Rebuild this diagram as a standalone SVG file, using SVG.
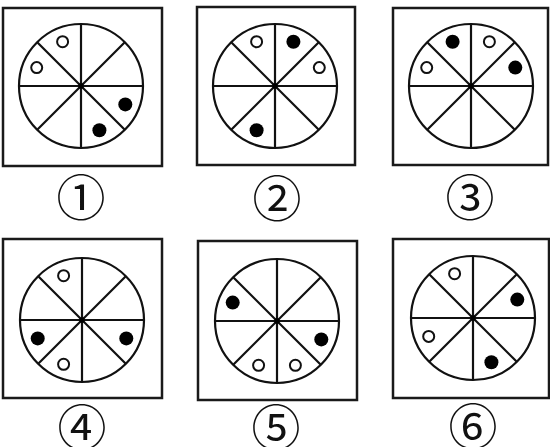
<svg xmlns="http://www.w3.org/2000/svg" xmlns:xlink="http://www.w3.org/1999/xlink" width="550" height="447" viewBox="0 0 550 447">
<style>
.frame{fill:none;stroke:#1a1a1a;stroke-width:2.5}
.wheel{fill:none;stroke:#111;stroke-width:2.2}
.open{fill:#fff;stroke:#111;stroke-width:2}
.fill{fill:#000}
.lbl{font-family:"Noto Sans CJK SC","DejaVu Sans",sans-serif;font-size:49px;fill:#111;text-anchor:middle}
</style>
<defs>
<g id="wheel">
<circle class="wheel" r="62"/>
<line class="wheel" x1="0" y1="-62" x2="0" y2="62"/>
<line class="wheel" x1="-62" y1="0" x2="62" y2="0"/>
<line class="wheel" x1="-43.8" y1="-43.8" x2="43.8" y2="43.8"/>
<line class="wheel" x1="43.8" y1="-43.8" x2="-43.8" y2="43.8"/>
<rect x="-2.5" y="-2.5" width="5" height="5" fill="#000"/>
</g>
<circle id="o" class="open" r="5.5"/>
<circle id="f" class="fill" r="7"/>
</defs>
<rect width="550" height="447" fill="#fff"/>
<g id="panel1">
<rect class="frame" x="3" y="8" width="159" height="158"/>
<use xlink:href="#wheel" x="81" y="86"/>
<use xlink:href="#o" x="62.6" y="41.7"/>
<use xlink:href="#o" x="36.7" y="67.6"/>
<use xlink:href="#f" x="125.3" y="104.4"/>
<use xlink:href="#f" x="99.4" y="130.3"/>
<text class="lbl" x="81" y="216">①</text>
</g>
<g id="panel2">
<rect class="frame" x="197" y="7" width="158" height="158"/>
<use xlink:href="#wheel" x="275" y="86"/>
<use xlink:href="#o" x="256.6" y="41.7"/>
<use xlink:href="#f" x="293.4" y="41.7"/>
<use xlink:href="#o" x="319.3" y="67.6"/>
<use xlink:href="#f" x="256.6" y="130.3"/>
<text class="lbl" x="277" y="217">②</text>
</g>
<g id="panel3">
<rect class="frame" x="393" y="8" width="155" height="157"/>
<use xlink:href="#wheel" x="471" y="86"/>
<use xlink:href="#f" x="452.6" y="41.7"/>
<use xlink:href="#o" x="489.4" y="41.7"/>
<use xlink:href="#f" x="515.3" y="67.6"/>
<use xlink:href="#o" x="426.7" y="67.6"/>
<text class="lbl" x="470" y="216">③</text>
</g>
<g id="panel4">
<rect class="frame" x="3" y="239" width="159" height="159"/>
<use xlink:href="#wheel" x="82" y="320"/>
<use xlink:href="#o" x="63.6" y="275.7"/>
<use xlink:href="#f" x="37.7" y="338.4"/>
<use xlink:href="#f" x="126.3" y="338.4"/>
<use xlink:href="#o" x="63.6" y="364.3"/>
<text class="lbl" x="82" y="446">④</text>
</g>
<g id="panel5">
<rect class="frame" x="198" y="241" width="159" height="159"/>
<use xlink:href="#wheel" x="277" y="321"/>
<use xlink:href="#f" x="232.7" y="302.6"/>
<use xlink:href="#f" x="321.3" y="339.4"/>
<use xlink:href="#o" x="258.6" y="365.3"/>
<use xlink:href="#o" x="295.4" y="365.3"/>
<text class="lbl" x="276" y="446">⑤</text>
</g>
<g id="panel6">
<rect class="frame" x="393" y="239" width="156" height="159"/>
<use xlink:href="#wheel" x="473" y="318"/>
<use xlink:href="#o" x="454.6" y="273.7"/>
<use xlink:href="#f" x="517.3" y="299.6"/>
<use xlink:href="#o" x="428.7" y="336.4"/>
<use xlink:href="#f" x="491.4" y="362.3"/>
<text class="lbl" x="473" y="445">⑥</text>
</g>
</svg>
